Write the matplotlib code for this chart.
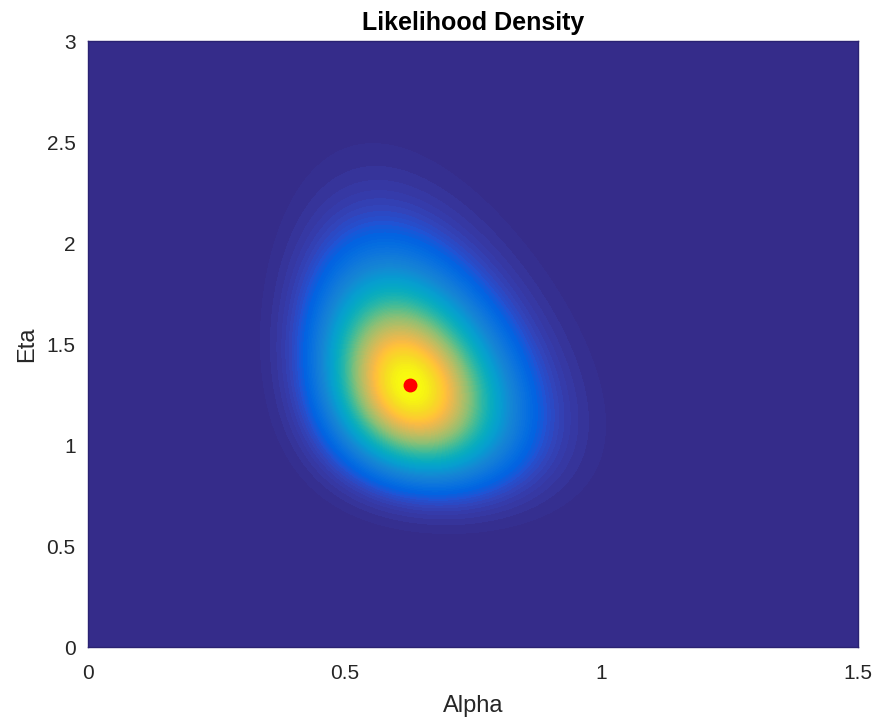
import numpy as np
import matplotlib
matplotlib.use("Agg")
import matplotlib.pyplot as plt
from matplotlib.colors import LinearSegmentedColormap

# likelihood surface: peak, spread (on a power scale
# of each parameter, where the blob is close to symmetric) and the mild tilt
peak_alpha, peak_eta = 0.627, 1.297
alpha_power, eta_power = 0.5, 1 / 3
spread_alpha = 0.070
spread_eta = 0.0875
tilt = -0.22

alpha_range = (0.0, 1.5)
eta_range = (0.0, 3.0)

xticks = [0, 0.5, 1, 1.5]
xticklabels = ['0', '0.5', '1', '1.5']
yticks = [0, 0.5, 1, 1.5, 2, 2.5, 3]
yticklabels = ['0', '0.5', '1', '1.5', '2', '2.5', '3']

# parula, sampled from MATLAB's 64-entry table
parula_rgb = [
    (0.2081, 0.1663, 0.5292), (0.2123, 0.2138, 0.6270), (0.1959, 0.2645, 0.7279),
    (0.1253, 0.3242, 0.8303), (0.0117, 0.3875, 0.8820), (0.0165, 0.4266, 0.8786),
    (0.0498, 0.4586, 0.8641), (0.0723, 0.4887, 0.8467), (0.0793, 0.5200, 0.8312),
    (0.0641, 0.5570, 0.8240), (0.0343, 0.5966, 0.8199), (0.0239, 0.6287, 0.8038),
    (0.0228, 0.6535, 0.7768), (0.0384, 0.6743, 0.7436), (0.0843, 0.6928, 0.7062),
    (0.1453, 0.7098, 0.6646), (0.2178, 0.7250, 0.6193), (0.3022, 0.7376, 0.5712),
    (0.3953, 0.7459, 0.5244), (0.4871, 0.7491, 0.4840), (0.5709, 0.7485, 0.4494),
    (0.6473, 0.7456, 0.4188), (0.7184, 0.7411, 0.3905), (0.7858, 0.7356, 0.3633),
    (0.8507, 0.7299, 0.3360), (0.9139, 0.7258, 0.3063), (0.9739, 0.7314, 0.2666),
    (0.9990, 0.7653, 0.2164), (0.9880, 0.8066, 0.1794), (0.9697, 0.8481, 0.1475),
    (0.9589, 0.8949, 0.1132), (0.9661, 0.9514, 0.0755), (0.9763, 0.9831, 0.0538),
]
parula = LinearSegmentedColormap.from_list("parula", parula_rgb, N=256)

plt.rcParams['font.family'] = ['Liberation Sans', 'DejaVu Sans']

a = np.linspace(0.0, 1.5, 500)
e = np.linspace(0.0, 3.0, 500)
A, E = np.meshgrid(a, e)
zu = (A ** alpha_power - peak_alpha ** alpha_power) / spread_alpha
zv = (E ** eta_power - peak_eta ** eta_power) / spread_eta
q = (zu ** 2 - 2 * tilt * zu * zv + zv ** 2) / (1 - tilt ** 2)
L = np.exp(-0.5 * q)

fig = plt.figure(figsize=(8.8, 7.27), dpi=100)
ax = fig.add_axes([0.1, 0.110, 0.875, 0.8335])
ax.contourf(A, E, L, levels=np.linspace(0, 1, 100), cmap=parula)
ax.plot(peak_alpha, peak_eta, 'o', color='#ff0000', markersize=9)

ax.set_xlim(*alpha_range)
ax.set_ylim(*eta_range)
ax.set_xticks(xticks)
ax.set_xticklabels(xticklabels)
ax.set_yticks(yticks)
ax.set_yticklabels(yticklabels)
ax.tick_params(length=0, labelsize=15, labelcolor='#262626')
ax.tick_params(axis='x', pad=12)
ax.tick_params(axis='y', pad=9)
for s in ax.spines.values():
    s.set_color('#2a2272')
    s.set_linewidth(1.0)
ax.set_xlabel('Alpha', fontsize=17, color='#262626', labelpad=9)
ax.set_ylabel('Eta', fontsize=17, color='#262626', labelpad=6)
ax.set_title('Likelihood Density', fontsize=18, fontweight='bold', pad=8)

fig.savefig('out.png', dpi=100)
